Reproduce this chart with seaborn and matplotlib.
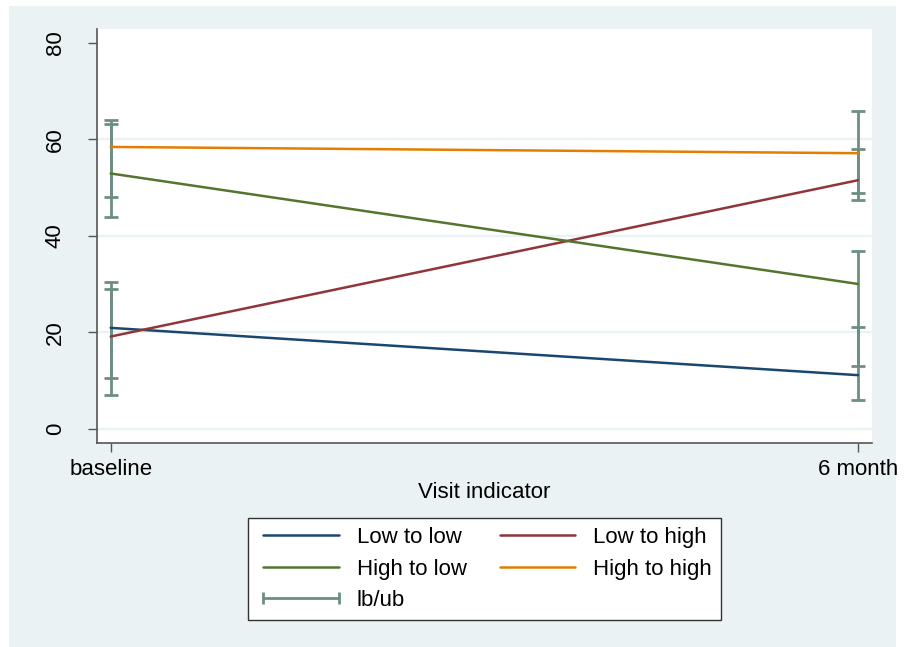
import matplotlib
matplotlib.use("Agg")
import matplotlib.pyplot as plt
import matplotlib.patches as mpatches
from matplotlib.lines import Line2D
import seaborn as sns
import pandas as pd

visits = ["baseline", "6 month"]
groups = ["Low to low", "Low to high", "High to low", "High to high"]
means = {
    "Low to low":   [20.9, 11.1],
    "Low to high":  [19.1, 51.5],
    "High to low":  [52.9, 30.0],
    "High to high": [58.4, 57.1],
}
lower = {
    "Low to low":   [7.0, 5.9],
    "Low to high":  [10.5, 47.5],
    "High to low":  [43.9, 13.0],
    "High to high": [48.0, 48.9],
}
upper = {
    "Low to low":   [29.0, 21.0],
    "Low to high":  [30.5, 57.9],
    "High to low":  [63.1, 36.9],
    "High to high": [63.9, 65.9],
}
yticks = [0, 20, 40, 60, 80]

colors = {"Low to low": "#1a476f", "Low to high": "#90353b",
          "High to low": "#55752f", "High to high": "#e37e00"}
ci_color = "#6e8e84"
bg = "#eaf2f3"

rows = []
for g in groups:
    for i, v in enumerate(visits):
        rows.append({"group": g, "visit": i, "mean": means[g][i],
                     "lb": lower[g][i], "ub": upper[g][i]})
df = pd.DataFrame(rows)

sns.set_theme(style="white")
plt.rcParams["font.family"] = ["Liberation Sans", "DejaVu Sans"]
plt.rcParams["text.color"] = "black"

W, H = 905, 647
fig = plt.figure(figsize=(W / 100, H / 100), dpi=100, facecolor="white")
fig.patches.append(mpatches.Rectangle((9 / W, 0), (896 - 9) / W, (H - 6) / H,
                                      transform=fig.transFigure, facecolor=bg,
                                      edgecolor="none", zorder=-10))
ax = fig.add_axes([97 / W, (H - 442.7) / H, (872 - 97) / W, (442.7 - 29) / H])
ax.set_facecolor("white")

for yv in [0, 20, 40, 60]:
    ax.axhline(yv, color=bg, lw=1.6, zorder=0)

# error bars
for g in groups:
    sub = df[df.group == g]
    ax.errorbar(sub["visit"], sub["mean"],
                yerr=[sub["mean"] - sub["lb"], sub["ub"] - sub["mean"]],
                fmt="none", ecolor=ci_color, elinewidth=2.0, capsize=5,
                capthick=2.0, zorder=2)

sns.lineplot(data=df, x="visit", y="mean", hue="group", hue_order=groups,
             palette=colors, lw=1.8, ax=ax, legend=False, zorder=3)

ax.set_xlim(-0.0183, 1.0188)
ax.set_ylim(-2.9, 82.84)
ax.set_xticks([0, 1])
ax.set_xticklabels(visits)
ax.set_yticks(yticks)
ax.set_yticklabels([str(t) for t in yticks], rotation=90, va="center")
ax.tick_params(axis="both", direction="out", length=6.5, width=1,
               color="#555555", labelsize=16, labelcolor="black",
               bottom=True, left=True)
ax.tick_params(axis="y", pad=16)
ax.tick_params(axis="x", pad=5)
ax.set_xlabel("Visit indicator", fontsize=16, labelpad=2, color="black")
ax.set_ylabel("")
for s in ["top", "right"]:
    ax.spines[s].set_visible(False)
for s in ["left", "bottom"]:
    ax.spines[s].set_color("#555555")
    ax.spines[s].set_linewidth(1.2)

handles = {g: Line2D([], [], color=colors[g], lw=1.8) for g in groups}
ci_handle = Line2D([], [], color=ci_color, lw=2.0, marker="|",
                   markersize=8, markeredgewidth=2.0)
order = [handles["Low to low"], handles["High to low"], ci_handle,
         handles["Low to high"], handles["High to high"]]
labels = ["Low to low", "High to low", "lb/ub", "Low to high", "High to high"]
leg = fig.legend(order, labels, ncol=2, loc="center",
                 bbox_to_anchor=(484.3 / W, 1 - 569 / H), fontsize=16,
                 frameon=True, fancybox=False, edgecolor="#333333",
                 facecolor="white", framealpha=1, handlelength=4.0,
                 handletextpad=0.5, columnspacing=1.2, labelspacing=0.48,
                 borderpad=0.4, borderaxespad=0, numpoints=2)
leg.get_frame().set_linewidth(1.0)
for t in leg.get_texts():
    t.set_color("black")

fig.savefig("out.png", dpi=100, facecolor="white")
